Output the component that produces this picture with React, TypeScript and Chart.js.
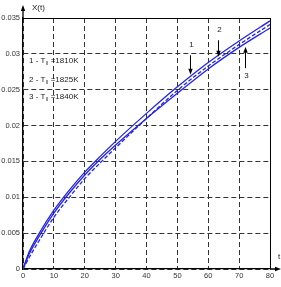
import React, { useEffect, useRef } from 'react';
import { Chart, registerables } from 'chart.js';
Chart.register(...registerables);

const tValues = [0, 2, 5, 10, 15, 20, 25, 30, 40, 50, 60, 70, 80];
const curve1 = [0, 0.0024, 0.0048, 0.0082, 0.011, 0.0135, 0.0157, 0.0178, 0.0217, 0.0254, 0.0288, 0.0318, 0.0346];
const curve2 = [0, 0.0016, 0.0038, 0.0072, 0.01, 0.0126, 0.0148, 0.0169, 0.021, 0.0249, 0.0283, 0.0313, 0.0341];
const curve3 = [0, 0.0021, 0.0044, 0.0078, 0.0106, 0.0131, 0.0153, 0.0173, 0.021, 0.0245, 0.0279, 0.0309, 0.0336];
const legendNames = ['1 - T', '2 - T', '3 - T'];
const legendTemps = ['=1810K', '=1825K', '=1840K'];
const arrowLabels = ['1', '2', '3'];
const arrowT = [54, 63, 72];
const arrowTail = [0.0298, 0.0319, 0.028];
const arrowTip = [0.0271, 0.0296, 0.031];

const BLUE = 'rgb(35,35,235)';
const FONT = '"Liberation Sans", Arial, sans-serif';

function drawArrow(ctx: CanvasRenderingContext2D, x: number, y1: number, y2: number) {
  const dir = y2 > y1 ? 1 : -1;
  ctx.beginPath();
  ctx.moveTo(x, y1);
  ctx.lineTo(x, y2 - dir * 5);
  ctx.stroke();
  ctx.beginPath();
  ctx.moveTo(x, y2);
  ctx.lineTo(x - 2.2, y2 - dir * 6);
  ctx.lineTo(x + 2.2, y2 - dir * 6);
  ctx.closePath();
  ctx.fill();
}

const decor = {
  id: 'decor',
  afterDraw(chart: any) {
    const { ctx, chartArea: a, scales } = chart;
    const xs = scales.x, ys = scales.y;
    ctx.save();
    ctx.strokeStyle = '#000';
    ctx.fillStyle = '#000';
    ctx.lineWidth = 1;
    ctx.setLineDash([]);
    ctx.beginPath();
    ctx.moveTo(a.left, a.top + 0.5);
    ctx.lineTo(a.right, a.top + 0.5);
    ctx.moveTo(a.right + 0.5, a.top);
    ctx.lineTo(a.right + 0.5, a.bottom);
    ctx.stroke();
    ctx.lineWidth = 1.3;
    ctx.beginPath();
    ctx.moveTo(a.left, a.top);
    ctx.lineTo(a.left, a.top - 9);
    ctx.moveTo(a.right, a.bottom);
    ctx.lineTo(a.right + 7, a.bottom);
    ctx.stroke();
    ctx.beginPath();
    ctx.moveTo(a.left, a.top - 13);
    ctx.lineTo(a.left - 2.2, a.top - 7);
    ctx.lineTo(a.left + 2.2, a.top - 7);
    ctx.closePath();
    ctx.fill();
    ctx.beginPath();
    ctx.moveTo(a.right + 11, a.bottom);
    ctx.lineTo(a.right + 5, a.bottom - 2.2);
    ctx.lineTo(a.right + 5, a.bottom + 2.2);
    ctx.closePath();
    ctx.fill();
    ctx.font = '8px ' + FONT;
    ctx.fillStyle = '#222';
    ctx.textBaseline = 'middle';
    ctx.textAlign = 'left';
    ctx.fillText('X(t)', a.left + 9, 8);
    ctx.fillText('t', a.right + 8, a.bottom - 12);
    const rows = [61, 80, 97];
    for (let i = 0; i < 3; i++) {
      const y = rows[i];
      let x = 29;
      ctx.font = '8px ' + FONT;
      ctx.fillText(legendNames[i], x, y);
      x += ctx.measureText(legendNames[i]).width;
      ctx.font = '5px ' + FONT;
      ctx.fillText('ll', x + 0.5, y + 3);
      x += ctx.measureText('ll').width + 3;
      ctx.font = '8px ' + FONT;
      ctx.fillText(legendTemps[i], x, y);
    }
    ctx.lineWidth = 1;
    ctx.fillStyle = '#000';
    ctx.textAlign = 'center';
    for (let i = 0; i < 3; i++) {
      const x = Math.round(xs.getPixelForValue(arrowT[i])) + 0.5;
      const yTail = ys.getPixelForValue(arrowTail[i]);
      const yTip = ys.getPixelForValue(arrowTip[i]);
      drawArrow(ctx, x, yTail, yTip);
      const down = yTip > yTail;
      ctx.fillStyle = '#222';
      ctx.font = '8px ' + FONT;
      ctx.fillText(arrowLabels[i], x + 1, down ? yTail - 10 : yTail + 8);
      ctx.fillStyle = '#000';
    }
    ctx.restore();
  },
};

export default function App() {
  const ref = useRef<HTMLCanvasElement>(null);
  useEffect(() => {
    const mk = (vals: number[]) => tValues.map((t, i) => ({ x: t, y: vals[i] }));
    const chart = new Chart(ref.current!, {
      type: 'line',
      data: {
        datasets: [
          { data: mk(curve1), borderColor: BLUE, borderWidth: 1.3, pointRadius: 0, cubicInterpolationMode: 'monotone' },
          { data: mk(curve2), borderColor: BLUE, borderWidth: 1.3, borderDash: [4, 2], pointRadius: 0, cubicInterpolationMode: 'monotone' },
          { data: mk(curve3), borderColor: BLUE, borderWidth: 1.3, pointRadius: 0, cubicInterpolationMode: 'monotone' },
        ],
      },
      options: {
        responsive: false,
        animation: false,
        events: [],
        layout: { padding: { top: 18, right: 11, left: 0, bottom: 0 } },
        plugins: { legend: { display: false }, tooltip: { enabled: false } },
        scales: {
          x: {
            type: 'linear',
            min: 0,
            max: 80,
            afterFit: (s: any) => { s.height = 18; },
            ticks: { stepSize: 10, color: '#333', font: { size: 7.5, family: FONT }, padding: 2, maxRotation: 0 },
            grid: { color: '#333', lineWidth: 1, drawTicks: false },
            border: { display: true, color: '#000', width: 1.3, dash: [5, 3] },
          },
          y: {
            min: 0,
            max: 0.035,
            afterFit: (s: any) => { s.width = 23; },
            ticks: {
              stepSize: 0.005,
              color: '#333',
              font: { size: 7.5, family: FONT },
              padding: 3,
              callback: (v: any) => String(+Number(v).toFixed(3)),
            },
            grid: { color: '#333', lineWidth: 1, drawTicks: false },
            border: { display: true, color: '#000', width: 1.3, dash: [5, 3] },
          },
        },
      } as any,
      plugins: [decor],
    });
    return () => chart.destroy();
  }, []);
  return (
    <div style={{ position: 'fixed', left: 0, top: 0, width: 281, height: 287, background: '#fff' }}>
      <canvas ref={ref} width={281} height={287} />
    </div>
  );
}
